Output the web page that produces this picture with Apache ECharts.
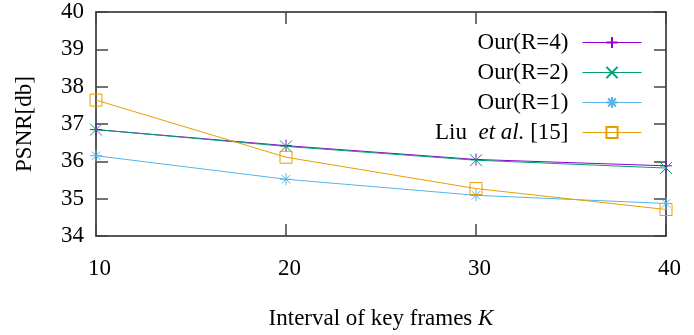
<!DOCTYPE html>
<html>
<head>
<meta charset="utf-8">
<script src="https://cdn.jsdelivr.net/npm/echarts@6/dist/echarts.min.js"></script>
<style>html,body{margin:0;padding:0;background:#fff}#c{width:694px;height:335px}</style>
</head>
<body>
<div id="c"></div>
<script>
const xValues = [10, 20, 30, 40];
const ourR4 = [36.85, 36.42, 36.05, 35.88];
const ourR2 = [36.85, 36.40, 36.03, 35.82];
const ourR1 = [36.15, 35.52, 35.09, 34.87];
const liu = [37.64, 36.11, 35.27, 34.71];
const seriesNames = ['Our(R=4)', 'Our(R=2)', 'Our(R=1)', 'Liu et al. [15]'];

const FONT = 'Liberation Serif';
const FS = 23;
const colors = ['#9400d3', '#009e73', '#56b4e9', '#e69f00'];
const symbols = [
  'path://M0,6H12M6,0V12',
  'path://M0,0L12,12M12,0L0,12',
  'path://M0,6H12M6,0V12M1.8,1.8L10.2,10.2M10.2,1.8L1.8,10.2',
  'path://M0,0H12V12H0Z'
];
const dataSets = [ourR4, ourR2, ourR1, liu];

function pairs(vals) { return xValues.map((x, i) => [x, vals[i]]); }

const series = dataSets.map((vals, i) => ({
  name: seriesNames[i],
  type: 'line',
  data: pairs(vals),
  symbol: symbols[i],
  symbolSize: 12,
  lineStyle: { color: colors[i], width: 1 },
  itemStyle: { color: i === 3 ? 'rgba(0,0,0,0)' : colors[i], borderColor: colors[i], borderWidth: 1 },
  emphasis: { disabled: true }
}));

function axisLine() { return { show: true, lineStyle: { color: '#222', width: 1.5 } }; }
function tick() { return { show: true, inside: true, length: 12, lineStyle: { color: '#444', width: 1.5 } }; }
function rich() {
  return {
    n: { fontFamily: FONT, fontSize: FS, color: '#000' },
    i: { fontFamily: FONT, fontSize: FS, color: '#000', fontStyle: 'italic' }
  };
}

const chart = echarts.init(document.getElementById('c'));
chart.setOption({
  animation: false,
  grid: { left: 96, right: 28, top: 12, bottom: 95 },
  legend: {
    orient: 'vertical',
    align: 'right',
    right: 52,
    top: 31,
    padding: 0,
    itemWidth: 59,
    itemHeight: 14,
    itemGap: 7,
    data: seriesNames,
    lineStyle: { width: 1 },
    formatter: function (n) {
      if (n.indexOf('Liu') === 0) return '{n|Liu  }{i|et al.}{n| [15]}';
      return '{n|' + n + '}';
    },
    textStyle: { fontFamily: FONT, fontSize: FS, color: '#000', padding: [0, 9, 0, 0], rich: rich() },
    selectedMode: false
  },
  xAxis: [{
    type: 'value', min: 10, max: 40, interval: 10, position: 'bottom',
    axisLine: axisLine(),
    axisTick: tick(),
    splitLine: { show: false },
    axisLabel: { fontFamily: FONT, fontSize: FS, color: '#000', margin: 21, padding: [0, 0, 0, 7] },
    name: '{n|Interval of key frames }{i|K}',
    nameLocation: 'middle', nameGap: 71,
    nameTextStyle: { fontFamily: FONT, fontSize: FS, color: '#000', rich: rich() }
  }, {
    type: 'value', min: 10, max: 40, interval: 10, position: 'top',
    axisLine: axisLine(),
    axisTick: tick(),
    splitLine: { show: false },
    axisLabel: { show: false }
  }],
  yAxis: [{
    type: 'value', min: 34, max: 40, interval: 1, position: 'left',
    axisLine: axisLine(),
    axisTick: tick(),
    splitLine: { show: false },
    axisLabel: { fontFamily: FONT, fontSize: FS, color: '#000', margin: 12 },
    name: 'PSNR[db]', nameLocation: 'middle', nameGap: 60,
    nameTextStyle: { fontFamily: FONT, fontSize: FS, color: '#000' }
  }, {
    type: 'value', min: 34, max: 40, interval: 1, position: 'right',
    axisLine: axisLine(),
    axisTick: tick(),
    splitLine: { show: false },
    axisLabel: { show: false }
  }],
  series: series
});
</script>
</body>
</html>
